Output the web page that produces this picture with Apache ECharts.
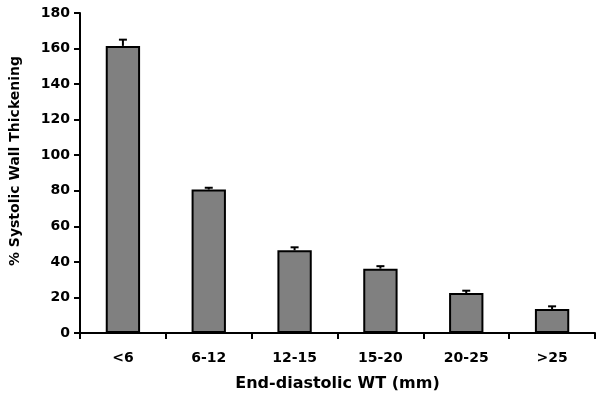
<!DOCTYPE html>
<html><head><meta charset="utf-8">
<script src="https://cdn.jsdelivr.net/npm/echarts@6/dist/echarts.min.js"></script>
<style>html,body{margin:0;padding:0;background:#fff}#c{width:602px;height:400px}</style>
</head><body><div id="c"></div>
<script>
const categories = ['<6', '6-12', '12-15', '15-20', '20-25', '>25'];
const values = [161.5, 80.7, 46.5, 36.2, 22.5, 13.5];
const errors = [3.5, 1.0, 1.7, 1.4, 1.3, 1.5];
const yTicks = [0, 20, 40, 60, 80, 100, 120, 140, 160, 180];

const chart = echarts.init(document.getElementById('c'), null, {renderer: 'canvas'});
const font = 'DejaVu Sans, sans-serif';
chart.setOption({
  animation: false,
  backgroundColor: '#fff',
  grid: {left: 78, right: 7, top: 13, bottom: 67, containLabel: false},
  xAxis: {
    type: 'category', data: categories,
    axisLine: {lineStyle: {color: '#000', width: 2}},
    axisTick: {show: true, length: 6, lineStyle: {color: '#000', width: 2}, alignWithLabel: false},
    axisLabel: {color: '#000', fontFamily: font, fontWeight: 'bold', fontSize: 14, margin: 18},
    name: 'End-diastolic WT (mm)', nameLocation: 'middle', nameGap: 43,
    nameTextStyle: {color: '#000', fontFamily: font, fontWeight: 'bold', fontSize: 16}
  },
  yAxis: {
    type: 'value', min: yTicks[0], max: yTicks[yTicks.length - 1], interval: 20,
    axisLine: {show: true, lineStyle: {color: '#000', width: 2}},
    axisTick: {show: true, length: 6, lineStyle: {color: '#000', width: 2}},
    splitLine: {show: false},
    axisLabel: {color: '#000', fontFamily: font, fontWeight: 'bold', fontSize: 14, margin: 10},
    name: '% Systolic Wall Thickening', nameLocation: 'middle', nameGap: 58, nameRotate: 90,
    nameTextStyle: {color: '#000', fontFamily: font, fontWeight: 'bold', fontSize: 14, padding: [0, 0, 0, 24]}
  },
  series: [{
    type: 'bar', data: values, barWidth: '40%',
    itemStyle: {color: '#808080', borderColor: '#000', borderWidth: 2}
  }, {
    type: 'custom',
    data: values.map((v, i) => [i, v, v + errors[i]]),
    renderItem: function (params, api) {
      const x = api.value(0);
      const p0 = api.coord([x, api.value(1)]);
      const p1 = api.coord([x, api.value(2)]);
      const hw = 4;
      const st = {stroke: '#000', lineWidth: 2};
      return {type: 'group', children: [
        {type: 'line', shape: {x1: p0[0], y1: p0[1], x2: p1[0], y2: p1[1]}, style: st},
        {type: 'line', shape: {x1: p1[0] - hw, y1: p1[1], x2: p1[0] + hw, y2: p1[1]}, style: st}
      ]};
    },
    z: 10
  }]
});
</script></body></html>
